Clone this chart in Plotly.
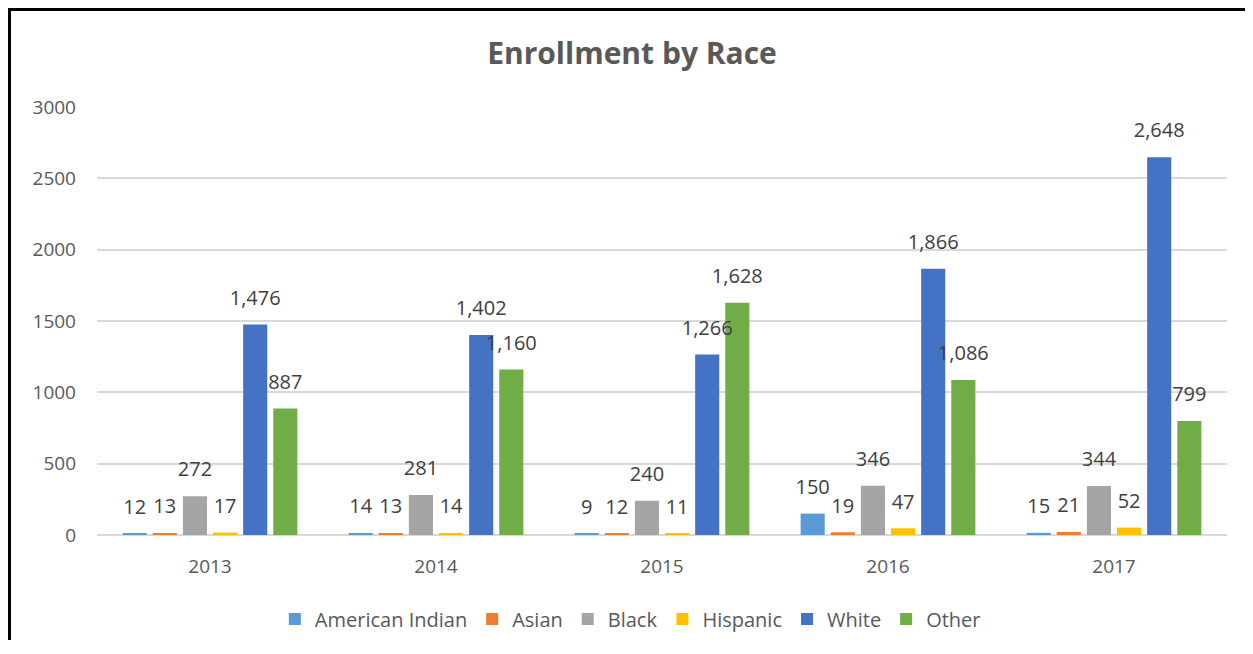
import plotly.graph_objects as go

years = ["2013", "2014", "2015", "2016", "2017"]
american_indian = [12, 14, 9, 150, 15]
asian = [13, 13, 12, 19, 21]
black = [272, 281, 240, 346, 344]
hispanic = [17, 14, 11, 47, 52]
white = [1476, 1402, 1266, 1866, 2648]
other = [887, 1160, 1628, 1086, 799]

series = [
    ("American Indian", american_indian, "#5B9BD5"),
    ("Asian", asian, "#ED7D31"),
    ("Black", black, "#A5A5A5"),
    ("Hispanic", hispanic, "#FFC000"),
    ("White", white, "#4472C4"),
    ("Other", other, "#70AD47"),
]

# page has an 8px body margin on every side; figure sized so no scrollbars appear
W, H = 1237, 632
ML, MR, MT, MB = 89, 18, 99, 105

fig = go.Figure()
for name, vals, color in series:
    fig.add_trace(go.Bar(
        x=years, y=vals, name=name,
        marker=dict(color=color, line=dict(width=0)),
        hoverinfo="x+y+name",
    ))
for name, vals, color in series:
    fig.add_trace(go.Scatter(
        x=years, y=vals, name=name, showlegend=False,
        mode="markers+text",
        marker=dict(size=22, opacity=0),
        text=[f"{v:,}" for v in vals],
        textposition="top center",
        textfont=dict(size=20, color="#404040"),
        cliponaxis=False, hoverinfo="skip",
    ))

pw = W - ML - MR
ph = H - MT - MB
bx = (1.5 - ML) / pw
by = 1 + (MT - 1.5) / ph

fig.update_layout(
    width=W, height=H,
    margin=dict(l=ML, r=MR, t=MT, b=MB, autoexpand=False),
    paper_bgcolor="white", plot_bgcolor="white",
    font=dict(family="Open Sans", color="#595959", size=18),
    title=dict(text="<b>Enrollment by Race</b>", x=(632 - 8) / W, xanchor="center",
               y=1 - 45 / H, yanchor="middle",
               font=dict(size=30, color="#595959")),
    barmode="group", bargap=0.2, bargroupgap=0.2,
    scattermode="group", scattergap=0.2,
    showlegend=True,
    legend=dict(orientation="h", x=0.472, xanchor="center", y=-84 / ph, yanchor="middle",
                font=dict(size=20, color="#595959"), itemwidth=30,
                traceorder="normal"),
    xaxis=dict(showgrid=False, showline=False, ticks="", ticklabelstandoff=18,
               tickfont=dict(size=19, color="#595959")),
    yaxis=dict(range=[0, 3000], dtick=500, showgrid=True, gridcolor="#D9D9D9",
               gridwidth=1.5, zeroline=True, zerolinecolor="#D9D9D9", zerolinewidth=1.5,
               showline=False, ticks="", ticklabelstandoff=20, tickformat="d",
               tickfont=dict(size=19, color="#595959")),
    shapes=[
        dict(type="rect", xref="paper", yref="paper", x0=bx, x1=1.3, y0=-0.6, y1=by,
             fillcolor="rgba(0,0,0,0)", line=dict(color="black", width=3), layer="above"),
    ],
)

fig.write_html("out.html")
